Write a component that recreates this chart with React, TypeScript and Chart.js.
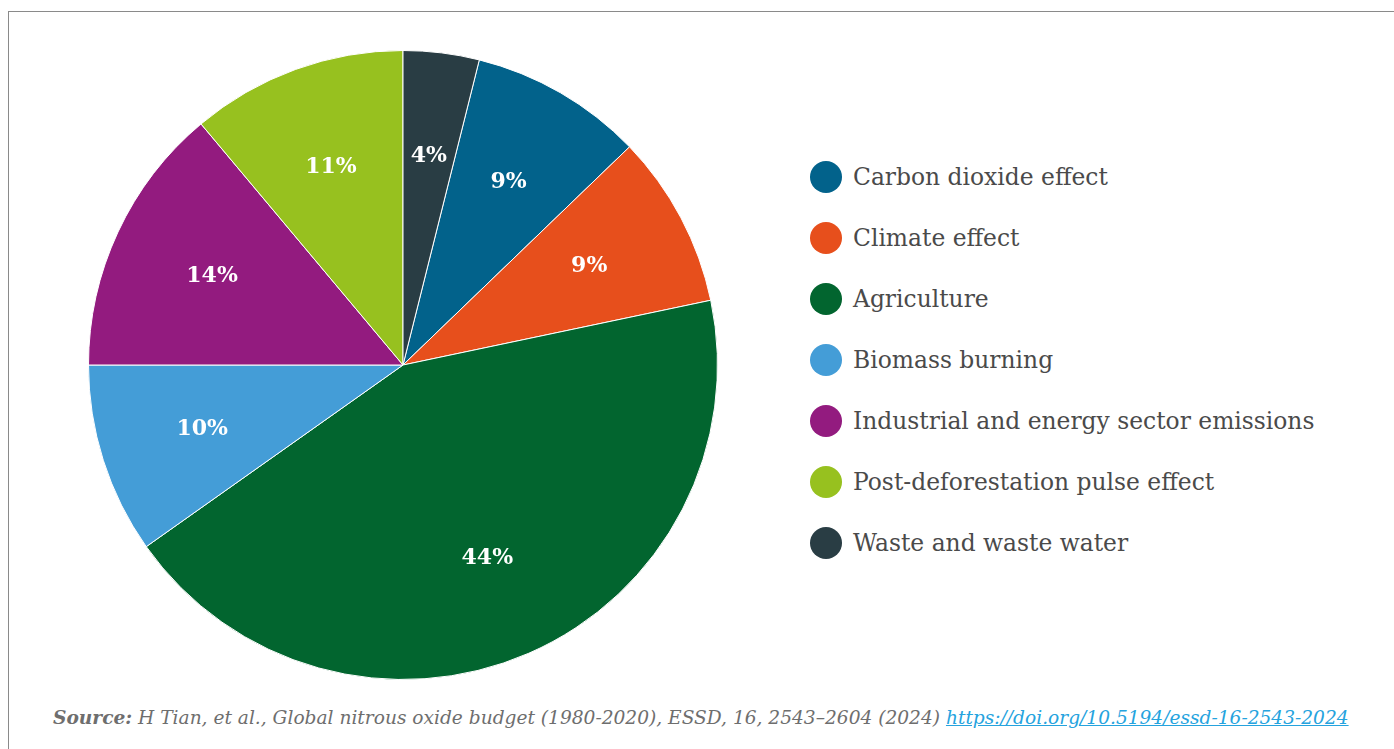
import React, { useEffect, useRef } from "react";
import { Chart, registerables } from "chart.js";

Chart.register(...registerables);

const categories = [
  "Carbon dioxide effect",
  "Climate effect",
  "Agriculture",
  "Biomass burning",
  "Industrial and energy sector emissions",
  "Post-deforestation pulse effect",
  "Waste and waste water",
];
const shares = [8.9, 8.9, 43.5, 9.8, 13.9, 11.1, 3.9];
const colors = ["#02628b", "#e74f1c", "#02652f", "#449dd7", "#931b7f", "#97c11f", "#293d44"];
const sourceLabel = "Source:";
const sourceText = " H Tian, et al., Global nitrous oxide budget (1980-2020), ESSD, 16, 2543\u20132604 (2024) ";
const sourceLink = "https://doi.org/10.5194/essd-16-2543-2024";

const FONT = "'DejaVu Serif', serif";

const pctLabels = {
  id: "pctLabels",
  afterDatasetsDraw(chart: any) {
    const ctx = chart.ctx;
    const meta = chart.getDatasetMeta(0);
    const total = shares.reduce((a, b) => a + b, 0);
    ctx.save();
    ctx.fillStyle = "#ffffff";
    ctx.font = "bold 22px " + FONT;
    ctx.textAlign = "center";
    ctx.textBaseline = "middle";
    meta.data.forEach((arc: any, i: number) => {
      const p = arc.getProps(["x", "y", "startAngle", "endAngle", "outerRadius"], true);
      const mid = (p.startAngle + p.endAngle) / 2;
      const r = p.outerRadius * 0.67;
      ctx.fillText(Math.round((shares[i] / total) * 100) + "%", p.x + Math.cos(mid) * r, p.y + Math.sin(mid) * r);
    });
    ctx.restore();
  },
};

export default function App() {
  const ref = useRef<HTMLCanvasElement | null>(null);
  useEffect(() => {
    if (!ref.current) return;
    const total = shares.reduce((a, b) => a + b, 0);
    const chart = new Chart(ref.current, {
      type: "pie",
      data: {
        labels: categories,
        datasets: [
          {
            data: shares,
            backgroundColor: colors,
            borderColor: "#ffffff",
            borderWidth: 1,
            hoverOffset: 0,
          },
        ],
      },
      options: {
        responsive: false,
        animation: false,
        devicePixelRatio: 1,
        rotation: (shares[shares.length - 1] / total) * 360,
        layout: { padding: 0 },
        plugins: {
          legend: { display: false },
          tooltip: { enabled: false },
        },
      },
      plugins: [pctLabels],
    });
    return () => chart.destroy();
  }, []);

  return (
    <div
      style={{
        position: "fixed",
        left: 0,
        top: 0,
        width: 1394,
        height: 749,
        overflow: "hidden",
        background: "#ffffff",
        fontFamily: FONT,
      }}
    >
      <div
        style={{
          position: "absolute",
          left: 8,
          top: 11,
          width: 1400,
          height: 760,
          borderLeft: "1px solid #8a8a8a",
          borderTop: "1px solid #8a8a8a",
        }}
      />
      <canvas
        ref={ref}
        width={630}
        height={630}
        style={{ position: "absolute", left: 88, top: 50, width: 630, height: 630 }}
      />
      <div style={{ position: "absolute", left: 810, top: 146 }}>
        {categories.map((c, i) => (
          <div key={c} style={{ display: "flex", alignItems: "center", height: 61 }}>
            <span
              style={{
                display: "inline-block",
                width: 32,
                height: 32,
                borderRadius: "50%",
                background: colors[i],
                flex: "0 0 auto",
              }}
            />
            <span style={{ marginLeft: 11, fontSize: 23.4, color: "#4a4a4a", whiteSpace: "nowrap" }}>{c}</span>
          </div>
        ))}
      </div>
      <div
        style={{
          position: "absolute",
          left: 53,
          top: 707,
          fontSize: 18.6,
          fontStyle: "italic",
          color: "#6e6e6e",
          whiteSpace: "nowrap",
        }}
      >
        <span style={{ fontWeight: "bold" }}>{sourceLabel}</span>
        <span>{sourceText}</span>
        <a href={sourceLink} style={{ color: "#25a3de", textDecoration: "underline" }}>
          {sourceLink}
        </a>
      </div>
    </div>
  );
}
